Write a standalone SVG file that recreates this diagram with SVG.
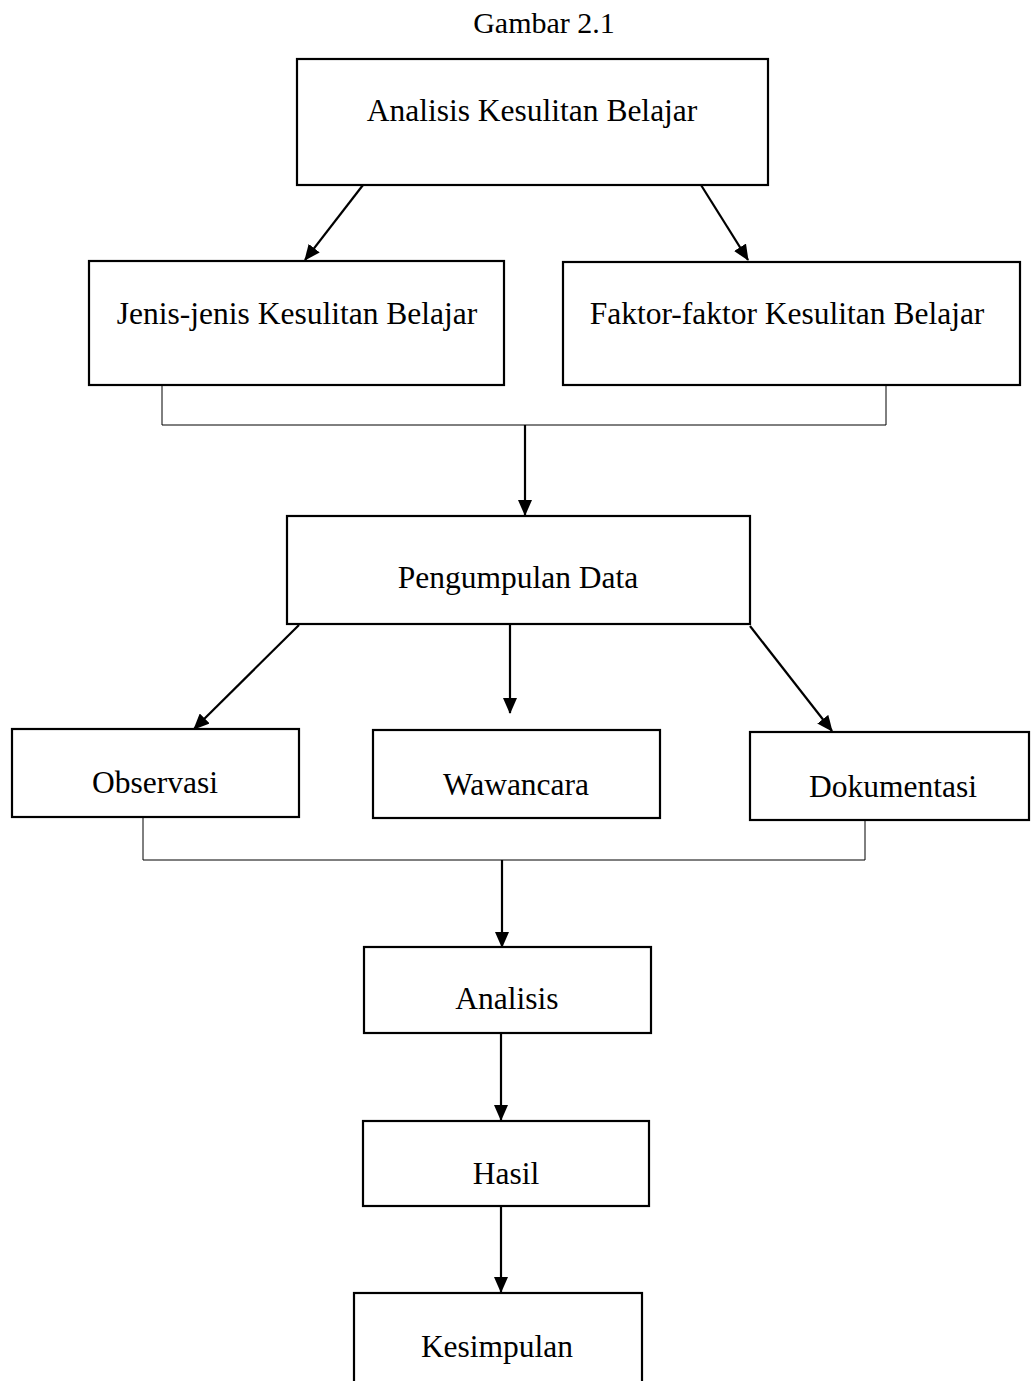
<svg xmlns="http://www.w3.org/2000/svg" width="1031" height="1381" viewBox="0 0 1031 1381">
<defs>
<style>
.box{fill:#fff;stroke:#000;stroke-width:2.2}
.t{font-family:"Liberation Serif","Times New Roman",serif;font-size:31.5px;fill:#000;text-anchor:middle}
.arr{stroke:#000;stroke-width:2.2;fill:none;marker-end:url(#ah)}
.br{stroke:#000;stroke-width:1;fill:none}
</style>
<marker id="ah" viewBox="0 0 16 14" refX="15" refY="7" markerWidth="16" markerHeight="14" markerUnits="userSpaceOnUse" orient="auto">
<path d="M0,0 L16,7 L0,14 Z" fill="#000"/>
</marker>
</defs>
<rect width="1031" height="1381" fill="#fff"/>
<text class="t" x="544" y="33" style="font-size:30px">Gambar 2.1</text>

<g id="connectors">
<line class="arr" x1="363" y1="185" x2="305" y2="260"/>
<line class="arr" x1="701" y1="185" x2="748" y2="260"/>
<polyline class="br" points="162,385 162,425 886,425 886,385"/>
<line class="arr" x1="525" y1="425" x2="525" y2="515"/>
<line class="arr" x1="299" y1="625" x2="194" y2="729"/>
<line class="arr" x1="510" y1="625" x2="510" y2="713"/>
<line class="arr" x1="750" y1="626" x2="832" y2="731"/>
<polyline class="br" points="143,817 143,860 865,860 865,820"/>
<line class="arr" x1="502" y1="860" x2="502" y2="947"/>
<line class="arr" x1="501" y1="1033" x2="501" y2="1120"/>
<line class="arr" x1="501" y1="1206" x2="501" y2="1292"/>
</g>

<g id="n-analisis-kesulitan">
<rect class="box" x="297" y="59" width="471" height="126"/>
<text class="t" x="532" y="121">Analisis Kesulitan Belajar</text>
</g>
<g id="n-jenis">
<rect class="box" x="89" y="261" width="415" height="124"/>
<text class="t" x="297" y="324">Jenis-jenis Kesulitan Belajar</text>
</g>
<g id="n-faktor">
<rect class="box" x="563" y="262" width="457" height="123"/>
<text class="t" x="787" y="324">Faktor-faktor Kesulitan Belajar</text>
</g>
<g id="n-pengumpulan">
<rect class="box" x="287" y="516" width="463" height="108"/>
<text class="t" x="518" y="588">Pengumpulan Data</text>
</g>
<g id="n-observasi">
<rect class="box" x="12" y="729" width="287" height="88"/>
<text class="t" x="155" y="793">Observasi</text>
</g>
<g id="n-wawancara">
<rect class="box" x="373" y="730" width="287" height="88"/>
<text class="t" x="516" y="795">Wawancara</text>
</g>
<g id="n-dokumentasi">
<rect class="box" x="750" y="732" width="279" height="88"/>
<text class="t" x="893" y="797">Dokumentasi</text>
</g>
<g id="n-analisis">
<rect class="box" x="364" y="947" width="287" height="86"/>
<text class="t" x="507" y="1009">Analisis</text>
</g>
<g id="n-hasil">
<rect class="box" x="363" y="1121" width="286" height="85"/>
<text class="t" x="506" y="1184">Hasil</text>
</g>
<g id="n-kesimpulan">
<rect class="box" x="354" y="1293" width="288" height="100"/>
<text class="t" x="497" y="1357">Kesimpulan</text>
</g>
</svg>
